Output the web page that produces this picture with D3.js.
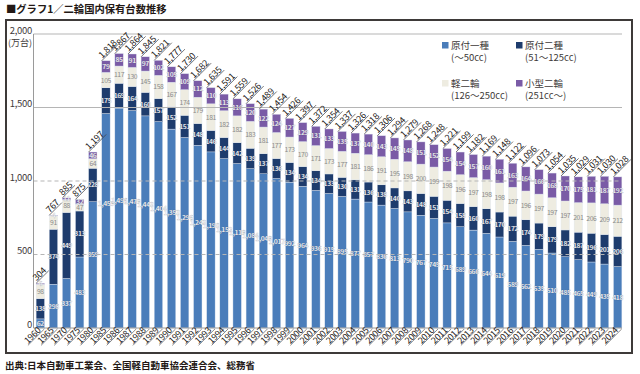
<!DOCTYPE html>
<html>
<head>
<meta charset="utf-8">
<script src="https://cdn.jsdelivr.net/npm/d3@7"></script>
<style>
  body { margin: 0; background: #fff; }
  svg { display: block; font-family: "Noto Sans CJK JP", "Noto Sans", sans-serif; }
  .num { font-family: "Liberation Sans Narrow", "Noto Sans CJK JP", sans-serif; }
</style>
</head>
<body>
<svg id="chart" width="640" height="374"></svg>
<script>
const years = ["1960","1965","1970","1975","1980","1985","1986","1987","1988","1989",
  "1990","1991","1992","1993","1994","1995","1996","1997","1998","1999",
  "2000","2001","2002","2003","2004","2005","2006","2007","2008","2009",
  "2010","2011","2012","2013","2014","2015","2016","2017","2018","2019",
  "2020","2021","2022","2023","2024"];

// 原付一種 (~50cc)
const gentsuki1 = [62,298,337,483,859,1459,1496,1479,1443,1404,
  1353,1296,1243,1198,1152,1119,1084,1049,1017,992,
  964,936,915,895,877,857,836,813,790,767,
  745,715,689,666,644,619,589,562,535,510,
  485,465,449,435,418];
// 原付二種 (51~125cc)
const gentsuki2 = [138,374,449,313,228,175,169,164,160,157,
  152,151,148,146,144,142,139,137,136,134,
  134,134,133,130,131,136,138,140,143,148,
  151,154,158,160,167,170,172,174,179,179,
  182,187,196,201,206];
// 軽二輪 (126~250cc)
const keiNirin = [98,91,88,47,64,105,117,130,145,158,
  167,174,179,181,182,182,183,181,177,173,
  170,171,173,177,181,186,191,195,198,200,
  199,198,196,197,198,198,197,196,197,197,
  197,201,206,209,212];
// 小型二輪 (251cc~)
const kogataNirin = [6,4,11,32,46,79,85,91,97,102,
  105,109,112,110,113,116,120,122,124,127,
  129,131,133,135,137,140,143,145,148,151,
  152,154,154,157,160,161,163,164,166,168,
  170,175,181,187,192];
// 合計 (labels as printed)
const totals = [304,767,885,875,1197,1818,1867,1864,1845,1821,
  1777,1730,1682,1635,1591,1559,1526,1489,1454,1426,
  1397,1372,1354,1337,1326,1318,1306,1294,1279,1268,
  1248,1221,1199,1182,1169,1148,1122,1096,1073,1054,
  1035,1029,1031,1030,1028];

const yTicks = [0, 500, 1000, 1500, 2000];

const series = [
  {key: "g1", name: "原付一種", sub: "(〜50cc)", color: "#4a7dba", text: "#ffffff"},
  {key: "g2", name: "原付二種", sub: "(51〜125cc)", color: "#1e3c6d", text: "#ffffff"},
  {key: "kei", name: "軽二輪", sub: "(126〜250cc)", color: "#eeece1", text: "#8a8a8a"},
  {key: "kogata", name: "小型二輪", sub: "(251cc〜)", color: "#7a5ba6", text: "#ffffff"}
];

const rows = years.map((y, i) => ({
  year: y, g1: gentsuki1[i], g2: gentsuki2[i], kei: keiNirin[i], kogata: kogataNirin[i], total: totals[i]
}));

const svg = d3.select("#chart");
const fmt = d3.format(",");

const x = d3.scaleBand().domain(years).range([33.5, 624.5]).paddingInner(0.36).paddingOuter(0.2);
const y = d3.scaleLinear().domain([0, 2000]).range([328, 34]);

// title
svg.append("text").attr("x", 6).attr("y", 13)
  .attr("font-size", 10.3).attr("font-weight", "bold").attr("fill", "#231815")
  .text("■グラフ1／二輪国内保有台数推移");

// frame
svg.append("rect").attr("x", 6).attr("y", 20).attr("width", 626).attr("height", 333)
  .attr("fill", "none").attr("stroke", "#3e3a39").attr("stroke-width", 2);

// source
svg.append("text").attr("x", 5).attr("y", 369)
  .attr("font-size", 9.5).attr("font-weight", "bold").attr("fill", "#231815")
  .text("出典:日本自動車工業会、全国軽自動車協会連合会、総務省");

// bars
const stack = d3.stack().keys(series.map(s => s.key));
const stacked = stack(rows);

const layers = svg.append("g").selectAll("g").data(stacked).join("g")
  .attr("fill", (d, i) => series[i].color);

layers.selectAll("rect").data(d => d).join("rect")
  .attr("x", d => x(d.data.year))
  .attr("width", x.bandwidth())
  .attr("y", d => y(d[1]))
  .attr("height", d => y(d[0]) - y(d[1]))
  .attr("stroke", "#dfe6f0").attr("stroke-width", 0.4);

// gridlines (drawn over bars)
const grid = svg.append("g");
grid.selectAll("line").data(yTicks.filter(t => t > 0)).join("line")
  .attr("x1", 33.5).attr("x2", 622)
  .attr("y1", d => y(d)).attr("y2", d => y(d))
  .attr("stroke", "#b5b5b5").attr("stroke-width", 1.2)
  .attr("stroke-dasharray", d => d >= 1500 ? null : "4,3");

// y axis
svg.append("line").attr("x1", 33.5).attr("x2", 33.5).attr("y1", y(2000)).attr("y2", y(0))
  .attr("stroke", "#9a9a9a").attr("stroke-width", 1);
svg.append("line").attr("x1", 33.5).attr("x2", 622).attr("y1", y(0)).attr("y2", y(0))
  .attr("stroke", "#9a9a9a").attr("stroke-width", 1);

svg.append("g").selectAll("text").data(yTicks).join("text")
  .attr("x", 32).attr("y", d => y(d) - 0.5)
  .attr("text-anchor", "end").attr("font-size", 9.5).attr("fill", "#3e3a39")
  .attr("letter-spacing", -0.3)
  .text(d => fmt(d));
svg.append("text").attr("x", 32).attr("y", 45.5).attr("text-anchor", "end")
  .attr("font-size", 9).attr("fill", "#3e3a39").text("(万台)");

// segment value labels
layers.each(function (layer, li) {
  const s = series[li];
  d3.select(this).selectAll("text").data(layer).join("text")
    .attr("class", "num")
    .attr("x", d => x(d.data.year) + x.bandwidth() / 2)
    .attr("y", d => {
      const top = y(d[1]), bot = y(d[0]);
      const f = (li === 0 && d[1] > 600) ? 0.42 : 0.5;
      return top + (bot - top) * f + 2.5;
    })
    .attr("text-anchor", "middle")
    .attr("font-size", 6.8).attr("font-weight", li === 2 ? "normal" : "bold")
    .attr("fill", s.text)
    .attr("stroke", li === 2 ? "none" : "rgba(40,50,70,0.35)").attr("stroke-width", 0.3)
    .attr("letter-spacing", -0.4)
    .text(d => fmt(d.data[s.key]));
});

// total labels with diagonal leader
const tot = svg.append("g");
rows.forEach((r, i) => {
  const top = y(stacked[3][i][1]);
  const x0 = x(r.year) + 0.5, y0 = top - 2;
  const t = tot.append("text").attr("class", "num")
    .attr("transform", `translate(${x0},${y0}) rotate(-45)`)
    .attr("font-size", 9).attr("fill", "#231815").attr("letter-spacing", -0.2)
    .text(fmt(r.total));
  const len = t.node().getComputedTextLength() + 2;
  const d = len / Math.SQRT2;
  tot.append("line")
    .attr("x1", x0 - 0.5).attr("y1", top)
    .attr("x2", x0 + d + 0.5).attr("y2", top - d - 1)
    .attr("stroke", "#3e3a39").attr("stroke-width", 0.7);
});

// x labels, rotated with diagonal underline
const xl = svg.append("g");
years.forEach(yr => {
  const cx = x(yr) + x.bandwidth() / 2;
  const t = xl.append("text").attr("class", "num")
    .attr("transform", `translate(${cx + 1},${331}) rotate(-45)`)
    .attr("text-anchor", "end").attr("font-size", 9).attr("fill", "#231815")
    .attr("letter-spacing", -0.3)
    .text(yr);
  const len = t.node().getComputedTextLength() + 3;
  const d = len / Math.SQRT2;
  xl.append("line")
    .attr("x1", cx + 4).attr("y1", 329)
    .attr("x2", cx + 3 - d).attr("y2", 330 + d)
    .attr("stroke", "#3e3a39").attr("stroke-width", 0.6);
});

// legend
const legPos = [[442, 42], [516, 42], [442, 80], [516, 80]];
const leg = svg.append("g");
series.forEach((s, i) => {
  const [lx, ly] = legPos[i];
  leg.append("rect").attr("x", lx).attr("y", ly).attr("width", 6.5).attr("height", 6.5)
    .attr("fill", s.color);
  leg.append("text").attr("x", lx + 9).attr("y", ly + 7)
    .attr("font-size", 9.5).attr("fill", "#3e3a39").text(s.name);
  leg.append("text").attr("x", lx + 9).attr("y", ly + 19)
    .attr("font-size", 9.5).attr("fill", "#3e3a39").text(s.sub);
});
</script>
</body>
</html>
